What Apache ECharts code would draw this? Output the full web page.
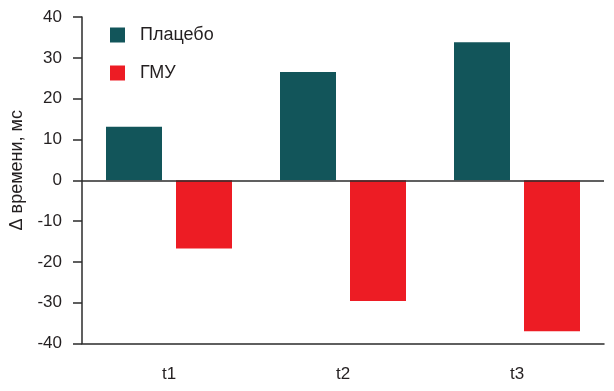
<!DOCTYPE html>
<html>
<head>
<meta charset="utf-8">
<script src="https://cdn.jsdelivr.net/npm/echarts@6/dist/echarts.min.js"></script>
<style>
html,body{margin:0;padding:0;background:#fff;}
#c{width:614px;height:391px;}
</style>
</head>
<body>
<div id="c"></div>
<script>
var categories = ['t1', 't2', 't3'];
var placebo = [13.1, 26.5, 33.8];
var gmu = [-16.7, -29.6, -37.0];
var seriesNames = ['Плацебо', 'ГМУ'];
var yAxisName = 'Δ времени, мс';

var axisColor = '#2b2b2b';
var textColor = '#231f20';
var font = 'Liberation Sans, Arial, sans-serif';

var chart = echarts.init(document.getElementById('c'), null, {renderer: 'canvas'});
chart.setOption({
  animation: false,
  backgroundColor: '#ffffff',
  grid: {left: 82, right: 10, top: 17, bottom: 47.5, containLabel: false},
  legend: {
    orient: 'vertical',
    left: 110,
    top: 26,
    padding: 0,
    itemWidth: 15,
    itemHeight: 15,
    itemGap: 20,
    icon: 'rect',
    data: seriesNames,
    textStyle: {fontFamily: font, fontSize: 18, color: textColor, lineHeight: 15, padding: [0, 0, 0, 10]}
  },
  xAxis: {
    type: 'category',
    data: categories,
    position: 'bottom',
    axisLine: {onZero: false, lineStyle: {color: axisColor, width: 1.5}},
    axisTick: {alignWithLabel: true, length: 8, lineStyle: {color: axisColor, width: 1.5}},
    axisLabel: {fontFamily: font, fontSize: 17, color: textColor, margin: 22},
    splitLine: {show: false}
  },
  yAxis: {
    type: 'value',
    min: -40,
    max: 40,
    interval: 10,
    name: yAxisName,
    nameLocation: 'middle',
    nameGap: 53,
    nameTextStyle: {fontFamily: font, fontSize: 18, color: textColor, padding: [0, 0, 0, 20]},
    axisLine: {show: true, lineStyle: {color: axisColor, width: 1.5}},
    axisTick: {show: true, length: 9, lineStyle: {color: axisColor, width: 1.5}},
    axisLabel: {fontFamily: font, fontSize: 17, color: textColor, margin: 20},
    splitLine: {show: false}
  },
  series: [
    {
      name: seriesNames[0],
      type: 'bar',
      data: placebo,
      barWidth: 56,
      barGap: '25%',
      itemStyle: {color: '#12555a'},
      markLine: {
        silent: true,
        symbol: 'none',
        label: {show: false},
        lineStyle: {color: axisColor, width: 1.5, type: 'solid'},
        data: [{yAxis: 0}]
      }
    },
    {
      name: seriesNames[1],
      type: 'bar',
      data: gmu,
      barWidth: 56,
      barGap: '25%',
      itemStyle: {color: '#ed1c24'}
    }
  ]
});
</script>
</body>
</html>
